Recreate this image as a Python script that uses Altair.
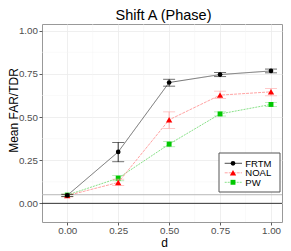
import altair as alt
import pandas as pd

d_vals = [0.0, 0.25, 0.5, 0.75, 1.0]
methods = ["FRTM", "NOAL", "PW"]
frtm_mean = [0.046, 0.298, 0.700, 0.746, 0.767]
frtm_lo = [0.040, 0.241, 0.679, 0.734, 0.756]
frtm_hi = [0.052, 0.353, 0.719, 0.758, 0.778]
noal_mean = [0.045, 0.121, 0.484, 0.627, 0.646]
noal_lo = [0.037, 0.104, 0.434, 0.607, 0.623]
noal_hi = [0.053, 0.140, 0.530, 0.650, 0.665]
pw_mean = [0.048, 0.146, 0.343, 0.518, 0.573]
pw_lo = [0.041, 0.131, 0.328, 0.506, 0.561]
pw_hi = [0.055, 0.161, 0.358, 0.530, 0.585]

x_ticks = [0.0, 0.25, 0.5, 0.75, 1.0]
y_ticks = [0.0, 0.25, 0.5, 0.75, 1.0]
x_minor = [0.125, 0.375, 0.625, 0.875]
y_minor = [0.125, 0.375, 0.625, 0.875]
ref_level = [0.05]
zero_level = [0.0]

rows = []
for m, mean, lo, hi in [("FRTM", frtm_mean, frtm_lo, frtm_hi),
                        ("NOAL", noal_mean, noal_lo, noal_hi),
                        ("PW", pw_mean, pw_lo, pw_hi)]:
    for d, a, b, c in zip(d_vals, mean, lo, hi):
        rows.append({"d": d, "method": m, "mean": a, "lo": b, "hi": c})
df = pd.DataFrame(rows)

W, H = 240, 198
XD = [-0.124, 1.054]
YD = [-0.108, 1.039]
xs = alt.Scale(domain=XD, nice=False, zero=False)
ys = alt.Scale(domain=YD, nice=False, zero=False)

FONT = "Liberation Sans"

line_col = {"FRTM": "#4a4a4a", "NOAL": "#ff8c8c", "PW": "#6ad86a"}
leg_line_col = {"FRTM": "#000000", "NOAL": "#ff8c8c", "PW": "#6ad86a"}
err_col = {"FRTM": "#000000", "NOAL": "#ff9f9f", "PW": "#88e088"}
pt_col = {"FRTM": "#000000", "NOAL": "#ff0000", "PW": "#00c800"}
shape = {"FRTM": "circle", "NOAL": "triangle-up", "PW": "square"}
psize = {"FRTM": 22, "NOAL": 40, "PW": 24}
dash = {"FRTM": [1, 0], "NOAL": [3, 1], "PW": [2, 1]}

base = alt.Chart(df)

minor_x = alt.Chart(pd.DataFrame({"v": x_minor})).mark_rule(color="#f4f4f4", strokeWidth=0.5).encode(
    x=alt.X("v:Q", scale=xs))
minor_y = alt.Chart(pd.DataFrame({"v": y_minor})).mark_rule(color="#f4f4f4", strokeWidth=0.5).encode(
    y=alt.Y("v:Q", scale=ys))
ref = alt.Chart(pd.DataFrame({"v": ref_level})).mark_rule(color="#b8b8b8", strokeWidth=1).encode(
    y=alt.Y("v:Q", scale=ys))
zero = alt.Chart(pd.DataFrame({"v": zero_level})).mark_rule(color="#333333", strokeWidth=1).encode(
    y=alt.Y("v:Q", scale=ys))

layers = [minor_x, minor_y, ref, zero]

axis_layer = base.mark_point(opacity=0).encode(
    x=alt.X("d:Q", scale=xs, title="d",
            axis=alt.Axis(values=x_ticks, format=".2f", grid=True,
                          titleX=122, titleY=24, titleBaseline="alphabetic",
                          titleAlign="center", labelPadding=0.5)),
    y=alt.Y("mean:Q", scale=ys, title="Mean FAR/TDR",
            axis=alt.Axis(values=y_ticks, format=".2f", grid=True,
                          titleX=-24.5, titleY=86, titleBaseline="alphabetic",
                          titleAlign="center", titleAngle=270, labelPadding=1.5)),
)
layers.append(axis_layer)

for m in ["PW", "NOAL", "FRTM"]:
    sub = base.transform_filter(alt.datum.method == m)
    layers.append(sub.mark_line(color=line_col[m], strokeWidth=0.8, strokeDash=dash[m]).encode(
        x=alt.X("d:Q", scale=xs), y=alt.Y("mean:Q", scale=ys)))
    layers.append(sub.mark_rule(color=err_col[m], strokeWidth=0.8).encode(
        x=alt.X("d:Q", scale=xs), y=alt.Y("lo:Q", scale=ys), y2="hi:Q"))
    layers.append(sub.mark_tick(color=err_col[m], orient="horizontal", size=12, thickness=0.8).encode(
        x=alt.X("d:Q", scale=xs), y=alt.Y("lo:Q", scale=ys)))
    layers.append(sub.mark_tick(color=err_col[m], orient="horizontal", size=12, thickness=0.8).encode(
        x=alt.X("d:Q", scale=xs), y=alt.Y("hi:Q", scale=ys)))
    layers.append(sub.mark_point(shape=shape[m], filled=True, color=pt_col[m], size=psize[m], opacity=1).encode(
        x=alt.X("d:Q", scale=xs), y=alt.Y("mean:Q", scale=ys)))

# legend (inside panel, bottom right)
leg_box = alt.Chart(pd.DataFrame({"k": [0]})).mark_rect(
    fill="white", stroke="#555555", strokeWidth=1).encode(
    x=alt.value(177), x2=alt.value(238), y=alt.value(129), y2=alt.value(168))
layers.append(leg_box)
for i, m in enumerate(methods):
    yy = 139.3 + i * 9.5
    ld = pd.DataFrame({"method": [m]})
    layers.append(alt.Chart(ld).mark_rule(color=leg_line_col[m], strokeWidth=0.8,
                                         strokeDash=dash[m]).encode(
        x=alt.value(182.7), x2=alt.value(200), y=alt.value(yy)))
    layers.append(alt.Chart(ld).mark_point(shape=shape[m], filled=True, color=pt_col[m],
                                           size=psize[m], opacity=1).encode(
        x=alt.value(191), y=alt.value(yy)))
    layers.append(alt.Chart(ld).mark_text(align="left", baseline="alphabetic", font=FONT,
                                          fontSize=9.5, color="#000000").encode(
        x=alt.value(203.3), y=alt.value(yy + 3.4), text="method:N"))

chart = alt.layer(*layers).properties(
    width=W, height=H,
    title=alt.TitleParams("Shift A (Phase)", font=FONT, fontSize=14.5, fontWeight="normal",
                          color="#000000", anchor="middle", frame="group",
                          offset=0, dx=1.5),
    padding={"left": 34, "top": 16, "right": 1, "bottom": 28},
    autosize=alt.AutoSizeParams(type="none"),
).configure_view(
    stroke="#999999", strokeWidth=1
).configure_axis(
    domain=False, gridColor="#ebebeb", gridWidth=0.8,
    tickColor="#333333", tickSize=3, tickWidth=0.8,
    labelFont=FONT, labelFontSize=9.8, labelColor="#4d4d4d",
    titleFont=FONT, titleFontSize=12, titleFontWeight="normal", titleColor="#000000",
)

chart.save("out.html", embed_options={"renderer": "svg", "actions": False})
